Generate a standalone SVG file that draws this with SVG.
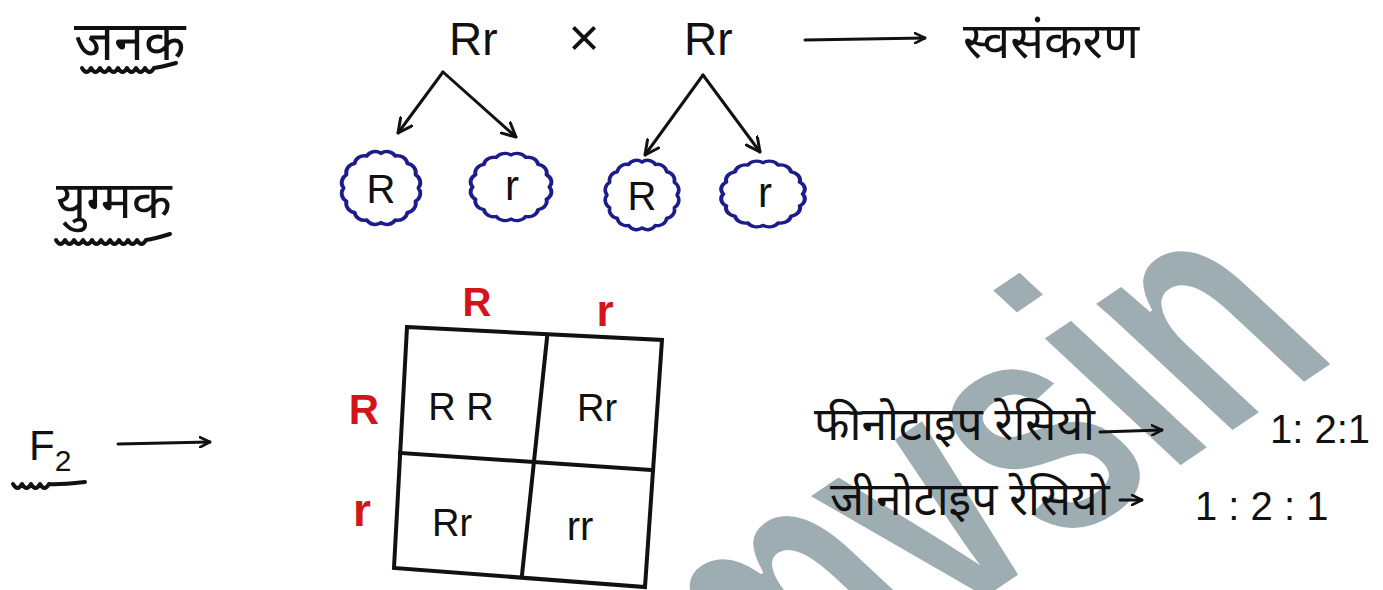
<svg xmlns="http://www.w3.org/2000/svg" xmlns:xlink="http://www.w3.org/1999/xlink" width="1383" height="590" viewBox="0 0 1383 590">
  <style>
    .ink { fill: #111; font-family: "Liberation Sans", "Noto Sans", sans-serif; }
    .hi { fill: #111; font-family: "Noto Sans Devanagari", "Noto Sans", "Lohit Devanagari", sans-serif; }
    .red { fill: #d4141b; font-family: "Liberation Sans", sans-serif; font-weight: bold; }
    .stroke { fill: none; stroke: #111; stroke-width: 3; stroke-linecap: round; stroke-linejoin: round; }
    .grid { fill: none; stroke: #111; stroke-width: 4; stroke-linecap: square; }
    .cloud { fill: none; stroke: #1c1c8a; stroke-width: 3.5; stroke-linejoin: round; }
    .wave { fill: none; stroke: #111; stroke-width: 4; stroke-linecap: round; stroke-linejoin: round; }
    .mark { fill: #9eadb2; stroke: #fff; stroke-width: 4; font-family: "Liberation Sans", sans-serif; font-weight: bold; letter-spacing: -10px; }
  </style>
  <defs>
    <marker id="head" viewBox="0 0 12 12" refX="11" refY="6" markerWidth="12" markerHeight="12" markerUnits="userSpaceOnUse" orient="auto">
      <path d="M1,1 L11,6 L1,11" fill="none" stroke="#111" stroke-width="2.6" stroke-linecap="round" stroke-linejoin="round"/>
    </marker>
    <marker id="headBig" viewBox="0 0 16 16" refX="15" refY="8" markerWidth="16" markerHeight="16" markerUnits="userSpaceOnUse" orient="auto">
      <path d="M1,1 L15,8 L1,15" fill="none" stroke="#111" stroke-width="3" stroke-linecap="round" stroke-linejoin="round"/>
    </marker>
    <!-- bumpy gamete outline, radius ~34 around the origin -->
    <path id="cloud" d="M34,0 A9,9 0 0 1 31.4,13 A9,9 0 0 1 24,24 A9,9 0 0 1 13,31.4 A9,9 0 0 1 0,34 A9,9 0 0 1 -13,31.4 A9,9 0 0 1 -24,24 A9,9 0 0 1 -31.4,13 A9,9 0 0 1 -34,0 A9,9 0 0 1 -31.4,-13 A9,9 0 0 1 -24,-24 A9,9 0 0 1 -13,-31.4 A9,9 0 0 1 0,-34 A9,9 0 0 1 13,-31.4 A9,9 0 0 1 24,-24 A9,9 0 0 1 31.4,-13 A9,9 0 0 1 34,0 Z"/>
  </defs>

  <rect width="1383" height="590" fill="#fff"/>

  <!-- background watermark -->
  <text class="mark" x="0" y="0" font-size="350" transform="translate(1340,360) rotate(-34) skewX(13) scale(0.72,1)" text-anchor="end">mvsin</text>

  <!-- row labels -->
  <g id="label-parents">
    <text class="hi" x="74" y="60" font-size="54">जनक</text>
    <path class="wave" d="M82,68 q4.5,8 9,0 q4.5,8 9,0 q4.5,8 9,0 q4.5,8 9,0 q4.5,8 9,0 q4.5,8 9,0 q4.5,8 9,0 q4.5,8 9,0 q8,-1 22,-5"/>
  </g>
  <g id="label-gametes">
    <text class="hi" x="56" y="218" font-size="52">युग्मक</text>
    <path class="wave" d="M56,240 q4.5,8 9,0 q4.5,8 9,0 q4.5,8 9,0 q4.5,8 9,0 q4.5,8 9,0 q4.5,8 9,0 q4.5,8 9,0 q4.5,8 9,0 q4.5,8 9,0 q4.5,8 9,0 q8,-1 24,-6"/>
  </g>
  <g id="label-f2">
    <text class="ink" x="29" y="460" font-size="42">F<tspan font-size="30" dy="11">2</tspan></text>
    <path class="wave" d="M13,484 q4.5,8 9,0 q4.5,8 9,0 q4.5,8 9,0 q4.5,8 9,0 q8,1 36,-2"/>
  </g>

  <!-- parent cross -->
  <g id="parent-1">
    <text class="ink" x="449" y="55" font-size="46">Rr</text>
  </g>
  <g id="cross">
    <text class="ink" x="584" y="56" font-size="54" text-anchor="middle">×</text>
  </g>
  <g id="parent-2">
    <text class="ink" x="684" y="55" font-size="46">Rr</text>
  </g>
  <g id="selfing">
    <text class="hi" x="963" y="58" font-size="50">स्वसंकरण</text>
  </g>

  <!-- gametes -->
  <g id="gamete-1">
    <use xlink:href="#cloud" class="cloud" transform="translate(381,188) scale(1.1,1.02)"/>
    <text class="ink" x="381" y="203" font-size="40" text-anchor="middle">R</text>
  </g>
  <g id="gamete-2">
    <use xlink:href="#cloud" class="cloud" transform="translate(511,187) scale(1.13,0.94)"/>
    <text class="ink" x="512" y="200" font-size="42" text-anchor="middle">r</text>
  </g>
  <g id="gamete-3">
    <use xlink:href="#cloud" class="cloud" transform="translate(642,195) scale(1.03,0.97)"/>
    <text class="ink" x="642" y="210" font-size="40" text-anchor="middle">R</text>
  </g>
  <g id="gamete-4">
    <use xlink:href="#cloud" class="cloud" transform="translate(763,194) scale(1.17,0.92)"/>
    <text class="ink" x="765" y="207" font-size="42" text-anchor="middle">r</text>
  </g>

  <!-- Punnett square -->
  <g id="punnett">
    <path class="grid" d="M407,327 L662,340 L645,587 L394,568 Z"/>
    <path class="grid" d="M400,453 L653,470"/>
    <path class="grid" d="M547,338 L522,575"/>
    <text class="red" x="477" y="316" font-size="40" text-anchor="middle">R</text>
    <text class="red" x="605" y="326" font-size="44" text-anchor="middle">r</text>
    <text class="red" x="364" y="424" font-size="42" text-anchor="middle">R</text>
    <text class="red" x="362" y="526" font-size="46" text-anchor="middle">r</text>
    <text class="ink" x="461" y="420" font-size="38" text-anchor="middle">R R</text>
    <text class="ink" x="597" y="421" font-size="38" text-anchor="middle">Rr</text>
    <text class="ink" x="452" y="536" font-size="38" text-anchor="middle">Rr</text>
    <text class="ink" x="580" y="540" font-size="40" text-anchor="middle">rr</text>
  </g>

  <!-- ratios -->
  <g id="phenotype">
    <text class="hi" x="814" y="440" font-size="46">फीनोटाइप रेसियो</text>
    <text class="ink" x="1270" y="443" font-size="40">1: 2:1</text>
  </g>
  <g id="genotype">
    <text class="hi" x="830" y="515" font-size="46">जीनोटाइप रेसियो</text>
    <text class="ink" x="1195" y="520" font-size="40">1 : 2 : 1</text>
  </g>

  <!-- connectors -->
  <g id="connectors">
    <line class="stroke" x1="443" y1="72" x2="398" y2="133" marker-end="url(#headBig)"/>
    <line class="stroke" x1="443" y1="72" x2="516" y2="137" marker-end="url(#headBig)"/>
    <line class="stroke" x1="703" y1="75" x2="645" y2="155" marker-end="url(#headBig)"/>
    <line class="stroke" x1="703" y1="75" x2="760" y2="152" marker-end="url(#headBig)"/>
    <line class="stroke" x1="805" y1="40" x2="925" y2="38" marker-end="url(#head)"/>
    <line class="stroke" x1="118" y1="444" x2="210" y2="442" marker-end="url(#head)"/>
    <line class="stroke" x1="1100" y1="432" x2="1162" y2="430" marker-end="url(#head)"/>
    <line class="stroke" x1="1120" y1="500" x2="1142" y2="500" marker-end="url(#head)"/>
  </g>
</svg>
